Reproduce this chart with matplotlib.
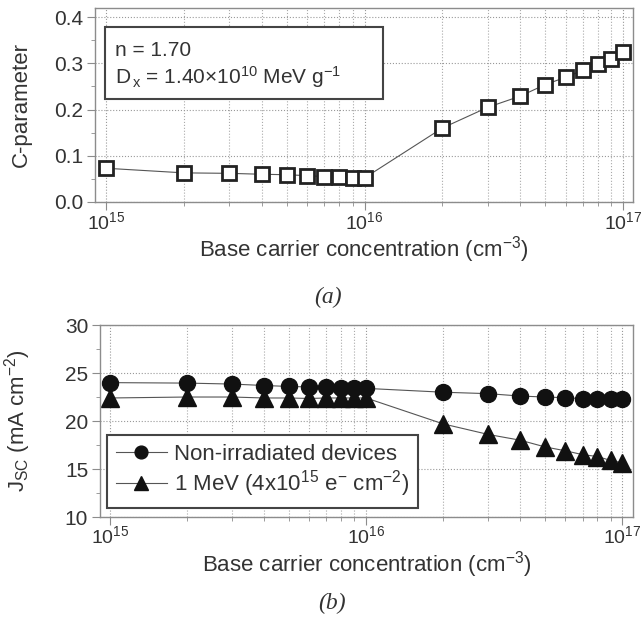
import numpy as np
import matplotlib.pyplot as plt
from matplotlib.patches import Rectangle
from matplotlib.ticker import LogLocator, MultipleLocator, NullFormatter

plt.rcParams['font.family'] = ['Liberation Sans', 'DejaVu Sans']
plt.rcParams['mathtext.fontset'] = 'custom'
plt.rcParams['mathtext.rm'] = 'Liberation Sans'
plt.rcParams['mathtext.it'] = 'Liberation Sans'
plt.rcParams['mathtext.default'] = 'rm'

# 基区载流子浓度 (cm^-3)
conc = [1e15, 2e15, 3e15, 4e15, 5e15, 6e15, 7e15, 8e15, 9e15,
        1e16, 2e16, 3e16, 4e16, 5e16, 6e16, 7e16, 8e16, 9e16, 1e17]

# C参数
c_param = [0.073, 0.063, 0.062, 0.060, 0.059, 0.057, 0.055, 0.054, 0.052,
           0.052, 0.160, 0.205, 0.229, 0.254, 0.270, 0.285, 0.299, 0.310, 0.325]

# Jsc (mA cm^-2)
jsc_non = [24.0, 23.95, 23.85, 23.7, 23.6, 23.55, 23.5, 23.45, 23.45,
           23.4, 23.0, 22.85, 22.6, 22.5, 22.43, 22.33, 22.3, 22.27, 22.25]
jsc_irr = [22.4, 22.5, 22.5, 22.4, 22.4, 22.35, 22.4, 22.4, 22.4,
           22.4, 19.7, 18.6, 18.0, 17.3, 16.9, 16.5, 16.3, 15.9, 15.65]

txt = '#333333'
spine_c = '#8c8c8c'
line_c = '#555555'

fig = plt.figure(figsize=(6.44, 6.23), dpi=100)
ax1 = fig.add_axes([0.1475, 0.6758, 0.8354, 0.3114])
ax2 = fig.add_axes([0.1553, 0.1701, 0.8280, 0.3082])


def style_axes(ax, xpad):
    ax.set_xscale('log')
    for s in ax.spines.values():
        s.set_color(spine_c)
        s.set_linewidth(1.0)
    ax.tick_params(which='both', direction='out', colors=spine_c, labelcolor=txt,
                   labelsize=15, top=False, right=False)
    ax.tick_params(which='major', length=5.5, pad=3)
    ax.tick_params(which='minor', length=3)
    ax.tick_params(axis='x', which='major', pad=xpad, labelsize=14)
    ax.xaxis.set_major_locator(LogLocator(base=10, numticks=5))
    ax.xaxis.set_minor_locator(LogLocator(base=10, subs=np.arange(2, 10), numticks=20))
    ax.xaxis.set_minor_formatter(NullFormatter())
    ax.grid(True, which='major', axis='both', linestyle=':', color='#999999', linewidth=0.8)
    ax.grid(True, which='minor', axis='x', linestyle=':', color='#aaaaaa', linewidth=0.8)
    ax.set_axisbelow(True)


# (a) C参数
style_axes(ax1, 1.0)
ax1.plot(conc, c_param, color=line_c, linewidth=0.8, marker='s', markersize=10,
         markerfacecolor='white', markeredgecolor='#222222', markeredgewidth=2.0)
ax1.set_xlim(10 ** 14.957, 10 ** 17.039)
ax1.set_ylim(0, 0.42)
ax1.yaxis.set_major_locator(MultipleLocator(0.1))
ax1.yaxis.set_minor_locator(MultipleLocator(0.05))
ax1.yaxis.set_major_formatter(plt.FormatStrFormatter('%.1f'))
ax1.set_ylabel('C-parameter', fontsize=16, color=txt)
ax1.yaxis.set_label_coords(-0.118, 0.5)
ax1.set_xlabel('Base carrier concentration (cm$^{-3}$)', fontsize=16, color=txt, labelpad=1)
ax1.add_patch(Rectangle((0.0186, 0.531), 0.5164, 0.371, transform=ax1.transAxes,
                        facecolor='white', edgecolor='#444444', linewidth=1.5, zorder=5))
ax1.text(0.037, 0.752, 'n = 1.70', transform=ax1.transAxes, fontsize=15,
         color=txt, va='baseline', zorder=6)
ax1.text(0.037, 0.607, 'D$_{\\,x}$ = 1.40×10$^{10}$ MeV g$^{-1}$', transform=ax1.transAxes,
         fontsize=15, color=txt, va='baseline', zorder=6)

# (b) Jsc
style_axes(ax2, 0.5)
ax2.plot(conc, jsc_non, color=line_c, linewidth=0.8, marker='o', markersize=11.5,
         markerfacecolor='#111111', markeredgecolor='#111111', label='Non-irradiated devices')
ax2.plot(conc, jsc_irr, color=line_c, linewidth=0.8, marker='^', markersize=13,
         markerfacecolor='#111111', markeredgecolor='#111111',
         label='1 MeV (4x10$^{15}$ e$^{-}$ cm$^{-2}$)')
ax2.set_xlim(10 ** 14.961, 10 ** 17.043)
ax2.set_ylim(10, 30)
ax2.yaxis.set_major_locator(MultipleLocator(5))
ax2.yaxis.set_minor_locator(MultipleLocator(2.5))
ax2.set_ylabel('J$_{SC}$ (mA cm$^{-2}$)', fontsize=16, color=txt)
ax2.yaxis.set_label_coords(-0.125, 0.5)
ax2.set_xlabel('Base carrier concentration (cm$^{-3}$)', fontsize=16, color=txt, labelpad=1)
leg = ax2.legend(loc='lower left', bbox_to_anchor=(0.013, 0.047), fontsize=16,
                 fancybox=False, framealpha=1, edgecolor='#444444', borderpad=0.4,
                 handlelength=2.3, handletextpad=0.3, labelspacing=0.15,
                 borderaxespad=0, markerscale=0.8)
leg.get_frame().set_linewidth(1.5)
for t in leg.get_texts():
    t.set_color(txt)

fig.text(0.51, 0.523, '(a)', fontsize=17, family='Liberation Serif', style='italic',
         color=txt, ha='center', va='center')
fig.text(0.515, 0.032, '(b)', fontsize=17, family='Liberation Serif', style='italic',
         color=txt, ha='center', va='center')

fig.savefig('out.png', dpi=100)
